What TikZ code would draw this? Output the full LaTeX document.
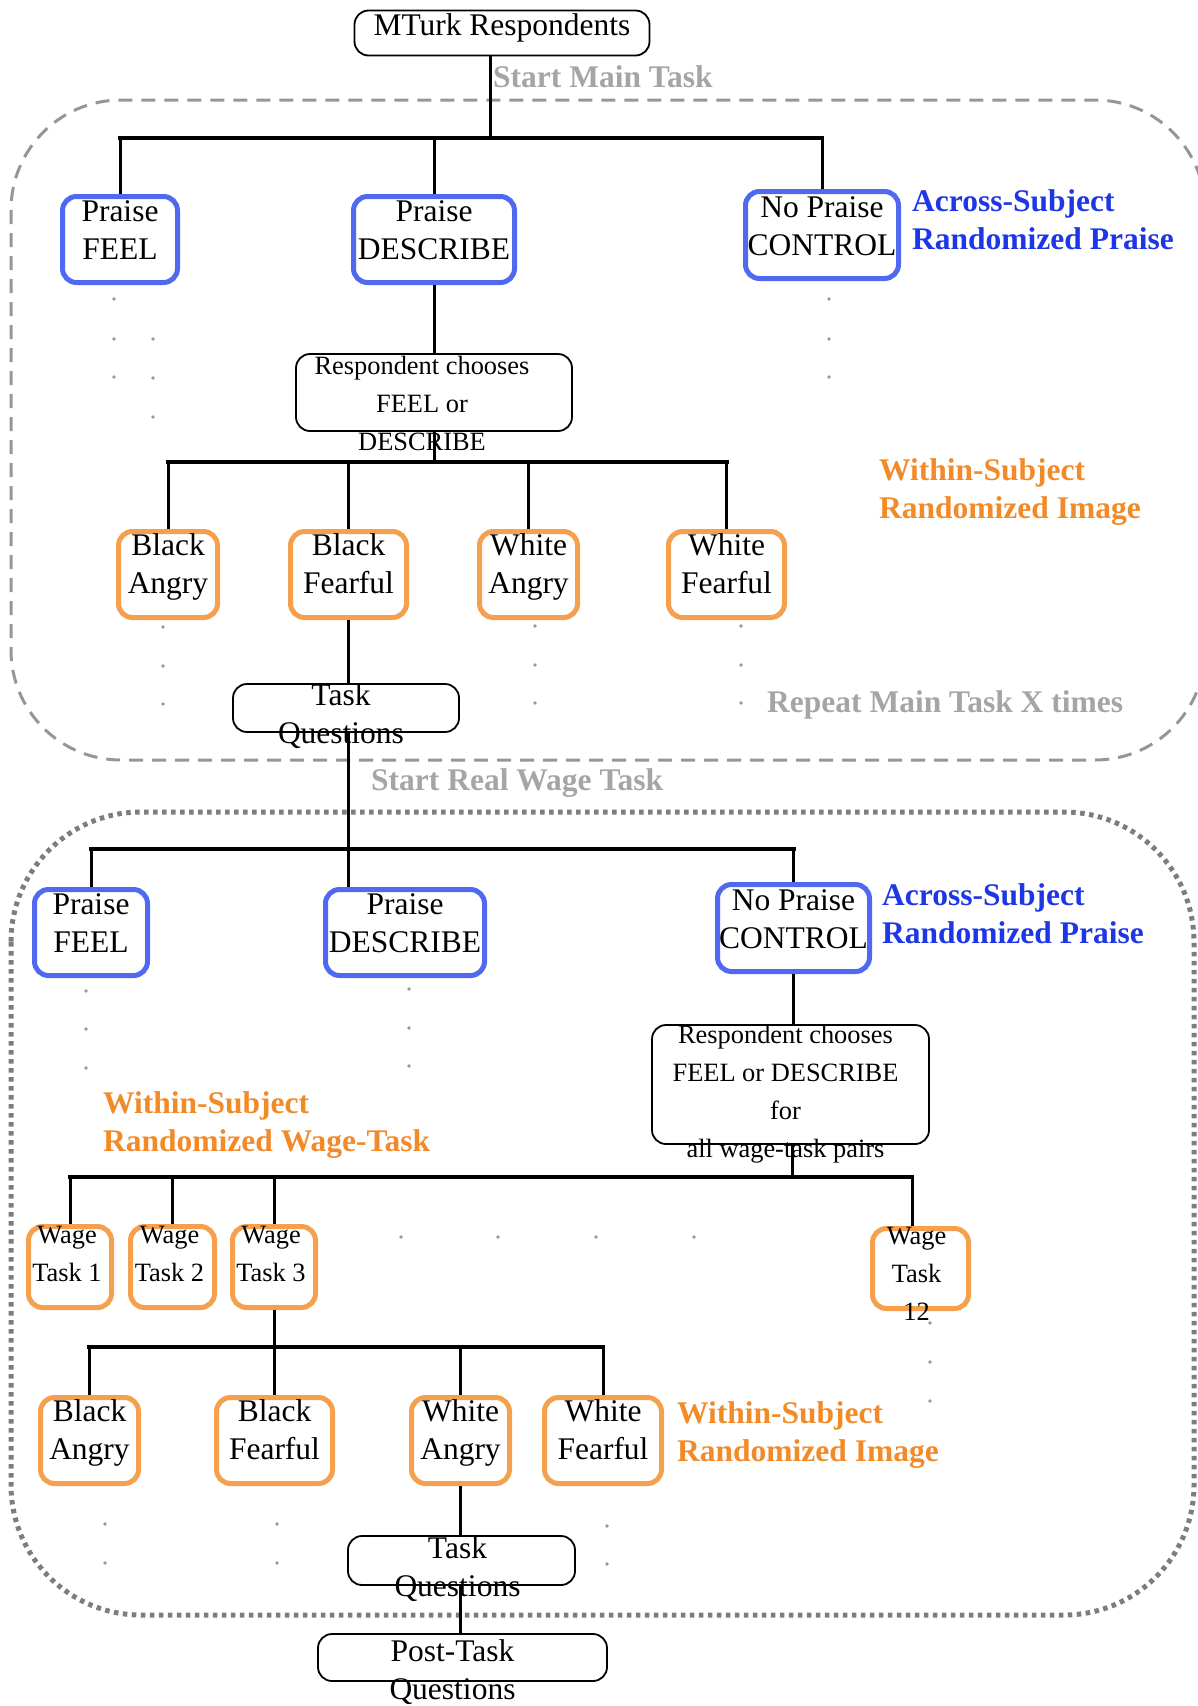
\documentclass[tikz,border=0pt]{standalone}
\usepackage{fontspec}
\setmainfont{Liberation Serif}
\usetikzlibrary{positioning}

\definecolor{praiseblue}{RGB}{80,105,240}
\definecolor{acrossblue}{RGB}{30,55,230}
\definecolor{imgorange}{RGB}{245,160,78}
\definecolor{orangetxt}{RGB}{242,138,40}
\definecolor{graytxt}{RGB}{165,165,165}
\definecolor{dashgray}{RGB}{150,150,150}
\definecolor{dotgray}{RGB}{125,125,125}

\begin{document}
\begin{tikzpicture}
		[x=1pt, y=-1pt,
		box/.style={draw, rounded corners=14pt, line width=1.8pt, inner sep=0pt},
		pbox/.style={box, draw=praiseblue, line width=5pt},
		ibox/.style={box, draw=imgorange, line width=5pt},
		txt/.style={align=center, inner sep=0pt, text depth=7pt, font=\fontsize{31.5}{38}\selectfont},
		sml/.style={align=center, inner sep=0pt, text depth=6pt, font=\fontsize{26.4}{38}\selectfont},
		note/.style={align=left, anchor=west, inner sep=0pt, font=\fontsize{31.5}{38}\selectfont\bfseries},
		link/.style={line width=3pt},
		bar/.style={line width=4.5pt, line cap=rect}]
		\useasboundingbox (0,0) rectangle (1198,1706);

		% the two repeated blocks
		\draw[dashgray, line width=3pt, dash pattern=on 14pt off 9pt, rounded corners=110pt] (11,100) rectangle (1205,760);
		\draw[dotgray, line width=5pt, dash pattern=on 4.5pt off 4.5pt, rounded corners=130pt] (11,812) rectangle (1194,1615);

		% main task
		\node [box, minimum width=295, minimum height=45, label={[txt,yshift=5]center:{MTurk Respondents}}] (top) at (502,33) {};
		\node [pbox, minimum width=115, minimum height=86, label={[txt,yshift=5.5]center:{Praise\\FEEL}}] (pf1) at (120,239.5) {};
		\node [pbox, minimum width=161, minimum height=86, label={[txt,yshift=5.5]center:{Praise\\DESCRIBE}}] (pd1) at (434,239.5) {};
		\node [pbox, minimum width=153, minimum height=87, label={[txt,yshift=5]center:{No Praise\\CONTROL}}] (pc1) at (822,235) {};
		\node [box, minimum width=276, minimum height=77, label={[sml,xshift=-12,yshift=-13.5]center:{Respondent chooses\\FEEL or\\DESCRIBE}}] (rc1) at (434,392.5) {};
		\node [ibox, minimum width=99, minimum height=86, label={[txt,yshift=7.5]center:{Black\\Angry}}] (ba1) at (168,574.5) {};
		\node [ibox, minimum width=116, minimum height=86, label={[txt,yshift=7.5]center:{Black\\Fearful}}] (bf1) at (348.5,574.5) {};
		\node [ibox, minimum width=98, minimum height=86, label={[txt,yshift=7.5]center:{White\\Angry}}] (wa1) at (528.5,574.5) {};
		\node [ibox, minimum width=116, minimum height=86, label={[txt,yshift=7.5]center:{White\\Fearful}}] (wf1) at (726.5,574.5) {};
		\node [box, minimum width=226, minimum height=48, label={[txt,xshift=-5,yshift=-9]center:{Task\\Questions}}] (tq1) at (346,708) {};

		% real wage task
		\node [pbox, minimum width=113, minimum height=86, label={[txt,yshift=5.5]center:{Praise\\FEEL}}] (pf2) at (91,932.5) {};
		\node [pbox, minimum width=159, minimum height=86, label={[txt,yshift=5.5]center:{Praise\\DESCRIBE}}] (pd2) at (405,932.5) {};
		\node [pbox, minimum width=152, minimum height=87, label={[txt,yshift=5]center:{No Praise\\CONTROL}}] (pc2) at (793.5,928) {};
		\node [box, minimum width=277, minimum height=119, label={[sml,xshift=-5,yshift=-9.5]center:{Respondent chooses\\FEEL or DESCRIBE\\for\\all wage-task pairs}}] (rc2) at (790.5,1084.5) {};
		\node [ibox, minimum width=83, minimum height=81, label={[sml,xshift=-3,yshift=10]center:{Wage\\Task 1}}] (w1) at (70,1267) {};
		\node [ibox, minimum width=84, minimum height=81, label={[sml,xshift=-3,yshift=10]center:{Wage\\Task 2}}] (w2) at (172.5,1267) {};
		\node [ibox, minimum width=83, minimum height=81, label={[sml,xshift=-3,yshift=10]center:{Wage\\Task 3}}] (w3) at (274,1267) {};
		\node [ibox, minimum width=96, minimum height=80, label={[sml,xshift=-4,yshift=-8.5]center:{Wage\\Task\\12}}] (w12) at (920.5,1268.5) {};
		\node [ibox, minimum width=98, minimum height=86, label={[txt,yshift=7.5]center:{Black\\Angry}}] (ba2) at (89.5,1440.5) {};
		\node [ibox, minimum width=116, minimum height=86, label={[txt,yshift=7.5]center:{Black\\Fearful}}] (bf2) at (274.5,1440.5) {};
		\node [ibox, minimum width=98, minimum height=86, label={[txt,yshift=7.5]center:{White\\Angry}}] (wa2) at (460.5,1440.5) {};
		\node [ibox, minimum width=117, minimum height=86, label={[txt,yshift=7.5]center:{White\\Fearful}}] (wf2) at (603,1440.5) {};
		\node [box, minimum width=227, minimum height=49, label={[txt,xshift=-4,yshift=-9.5]center:{Task\\Questions}}] (tq2) at (461.5,1560.5) {};
		\node [box, minimum width=289, minimum height=47, label={[txt,xshift=-10,yshift=-15.5]center:{Post-Task\\Questions}}] (post) at (462.5,1657.5) {};

		% side notes
		\node [note, text=graytxt] (smt) at (493,77) {Start Main Task};
		\node [note, text=acrossblue] (asp1) at (912,220) {Across-Subject\\Randomized Praise};
		\node [note, text=orangetxt] (wsi1) at (879,492) {Within-Subject\\Randomized Image};
		\node [note, text=graytxt] (rmt) at (767,705) {Repeat Main Task X times};
		\node [note, text=graytxt] (srw) at (371,783) {Start Real Wage Task};
		\node [note, text=acrossblue] (asp2) at (882,914) {Across-Subject\\Randomized Praise};
		\node [note, text=orangetxt] (wsw) at (103,1125) {Within-Subject\\Randomized Wage-Task};
		\node [note, text=orangetxt] (wsi2) at (677,1435) {Within-Subject\\Randomized Image};

		% tree lines
		\coordinate (j1) at (490,138);
		\draw [link] (top.south -| j1) -- (j1);
		\draw [bar] (pf1.north |- j1) -- (pc1.north |- j1);
		\foreach \n in {pf1,pd1,pc1}
			\draw [link] (\n.north) -- (\n.north |- j1);
		\draw [link] (pd1) -- (rc1);

		\coordinate (j2) at (435,462);
		\draw [link] (rc1.south) -- (rc1.south |- j2);
		\draw [bar] (ba1.north |- j2) -- (wf1.north |- j2);
		\foreach \n in {ba1,bf1,wa1,wf1}
			\draw [link] (\n.north) -- (\n.north |- j2);
		\draw [link] (bf1.south) -- (bf1.south |- tq1.north);

		\coordinate (j3) at (348,849);
		\draw [link] (tq1.south -| j3) -- (j3 |- pd2.north);
		\draw [bar] (pf2.north |- j3) -- (pc2.north |- j3);
		\foreach \n in {pf2,pc2}
			\draw [link] (\n.north) -- (\n.north |- j3);
		\draw [link] (pc2.south) -- (pc2.south |- rc2.north);

		\coordinate (j4) at (792,1177);
		\coordinate (j4e) at (912,1177);
		\draw [link] (rc2.south -| j4) -- (j4);
		\draw [bar] (w1.north |- j4) -- (j4e);
		\foreach \n in {w1,w2,w3}
			\draw [link] (\n.north) -- (\n.north |- j4);
		\draw [link] (j4e) -- (j4e |- w12.north);

		\coordinate (j5) at (274,1347);
		\draw [link] (w3.south) -- (w3.south |- j5);
		\draw [bar] (ba2.north |- j5) -- (wf2.north |- j5);
		\foreach \n in {ba2,bf2,wa2,wf2}
			\draw [link] (\n.north) -- (\n.north |- j5);
		\draw [link] (wa2.south) -- (wa2.south |- tq2.north);
		\draw [link] (tq2.south -| wa2) -- (post.north -| wa2);

		% faint dots for the branches not drawn out
		\foreach \x/\y in {114/299,114/339,114/377,153/339,153/378,153/417,829/299,829/339,829/377,
			163/627,163/666,163/704,535/626,535/665,535/703,741/626,741/665,741/703,
			86/991,86/1029,86/1068,409/989,409/1028,409/1066,
			401/1237,498/1237,596/1237,694/1237,930/1323,930/1362,930/1401,
			105/1524,105/1563,277/1524,277/1563,607/1526,607/1564}
			\fill [dotgray!80] (\x,\y) circle (1.8);
	\end{tikzpicture}
\end{document}
